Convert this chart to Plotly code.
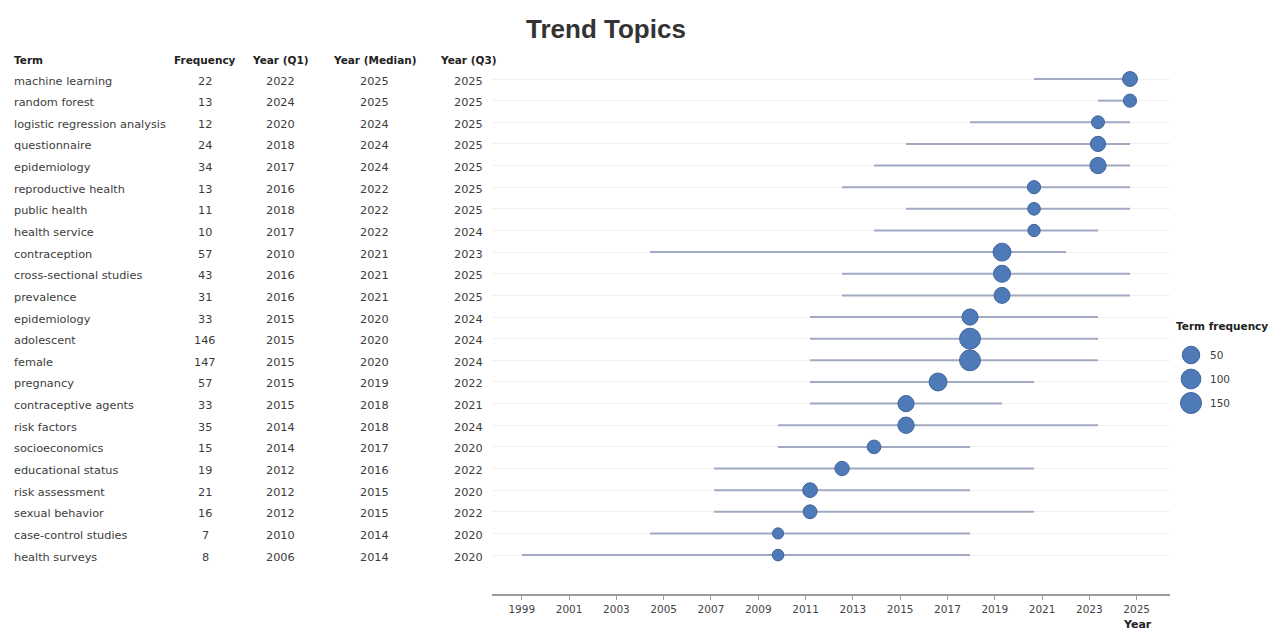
import numpy as np
import plotly.graph_objects as go

# ---- data -------------------------------------------------------------
terms = [
    "machine learning", "random forest", "logistic regression analysis",
    "questionnaire", "epidemiology", "reproductive health", "public health",
    "health service", "contraception", "cross-sectional studies", "prevalence",
    "epidemiology", "adolescent", "female", "pregnancy", "contraceptive agents",
    "risk factors", "socioeconomics", "educational status", "risk assessment",
    "sexual behavior", "case-control studies", "health surveys",
]
frequency = [22, 13, 12, 24, 34, 13, 11, 10, 57, 43, 31, 33, 146, 147, 57,
             33, 35, 15, 19, 21, 16, 7, 8]
year_q1 = [2022, 2024, 2020, 2018, 2017, 2016, 2018, 2017, 2010, 2016, 2016,
           2015, 2015, 2015, 2015, 2015, 2014, 2014, 2012, 2012, 2012, 2010, 2006]
year_median = [2025, 2025, 2024, 2024, 2024, 2022, 2022, 2022, 2021, 2021, 2021,
               2020, 2020, 2020, 2019, 2018, 2018, 2017, 2016, 2015, 2015, 2014, 2014]
year_q3 = [2025, 2025, 2025, 2025, 2025, 2025, 2025, 2024, 2023, 2025, 2025,
           2024, 2024, 2024, 2022, 2021, 2024, 2020, 2022, 2020, 2022, 2020, 2020]

axis_years = list(range(1999, 2026, 2))
legend_freqs = [50, 100, 150]

headers = ["Term", "Frequency", "Year (Q1)", "Year (Median)", "Year (Q3)"]

# ---- styling ----------------------------------------------------------
W, H = 1270, 633
FONT = "DejaVu Sans"
DOT = "#4f7ab8"
DOT_EDGE = "#40659c"
RANGE = "#a2aac2"
TEXT = "#3c3c3c"


def dot_size(f):
    """Marker diameter (px) for a term frequency (log scale)."""
    return 5.0 + 3.2 * np.log(np.asarray(f, dtype=float))


rows = np.arange(len(terms))

# interquartile range segments, one per term
seg_x, seg_y = [], []
for r, a, b in zip(rows, year_q1, year_q3):
    seg_x += [a, b, None]
    seg_y += [r, r, None]

fig = go.Figure()

# binds the labelled year axis to the row axis (draws nothing)
fig.add_trace(go.Scatter(
    x=axis_years, y=[None] * len(axis_years), mode="markers",
    xaxis="x", yaxis="y", hoverinfo="skip", showlegend=False,
))

fig.add_trace(go.Scatter(
    x=seg_x, y=seg_y, mode="lines", xaxis="x2", yaxis="y",
    line=dict(color=RANGE, width=2), hoverinfo="skip",
))
fig.add_trace(go.Scatter(
    x=year_median, y=rows, mode="markers", xaxis="x2", yaxis="y",
    marker=dict(size=dot_size(frequency), color=DOT, opacity=1,
                line=dict(color=DOT_EDGE, width=1)),
    customdata=np.stack([terms, frequency], axis=1),
    hovertemplate="%{customdata[0]}<br>Median: %{x}<br>Freq: %{customdata[1]}<extra></extra>",
))

# size legend drawn with the same size scale
fig.add_trace(go.Scatter(
    x=np.zeros(len(legend_freqs)), y=legend_freqs, mode="markers",
    xaxis="x3", yaxis="y3",
    marker=dict(size=dot_size(legend_freqs), color=DOT, opacity=1,
                line=dict(color=DOT_EDGE, width=1)),
    hoverinfo="skip",
))

plot_dom = [492 / W, 1170 / W]
top, bottom = 62, 594
ph = bottom - top


def py(px):
    """pixel row -> paper y"""
    return (bottom - px) / ph


annotations = []

# title
annotations.append(dict(
    text="<b>Trend Topics</b>", x=606 / W, y=py(29), xref="paper", yref="paper",
    showarrow=False, font=dict(family="Liberation Sans", size=26, color="#333333"),
    xanchor="center", yanchor="middle",
))

# table
col_x = [12, 205, 280, 375, 468]
col_anchor = ["left", "center", "center", "center", "center"]
columns = [terms, frequency, year_q1, year_median, year_q3]
for hx, ha, h in zip(col_x, col_anchor, headers):
    annotations.append(dict(
        text=f"<b>{h}</b>", x=hx / W, y=py(60), xref="paper", yref="paper",
        showarrow=False, xanchor=ha, yanchor="middle",
        font=dict(family=FONT, size=10.5, color="#222222"),
    ))
for cx, ca, col in zip(col_x, col_anchor, columns):
    for r, v in zip(rows, col):
        annotations.append(dict(
            text=str(v), x=cx / W, y=r, xref="paper", yref="y",
            showarrow=False, xanchor=ca, yanchor="middle", yshift=-2,
            font=dict(family=FONT, size=11.3, color=TEXT),
        ))

# axis title
annotations.append(dict(
    text="<b>Year</b>", x=1137 / W, y=py(624), xref="paper", yref="paper",
    showarrow=False, xanchor="center", yanchor="middle",
    font=dict(family=FONT, size=11, color="#222222"),
))

# legend title and labels
annotations.append(dict(
    text="<b>Term frequency</b>", x=1174 / W, y=py(326), xref="paper", yref="paper",
    showarrow=False, xanchor="left", yanchor="middle",
    font=dict(family=FONT, size=10.5, color="#222222"),
))
for v in legend_freqs:
    annotations.append(dict(
        text=str(v), x=1208 / W, y=v, xref="paper", yref="y3",
        showarrow=False, xanchor="left", yanchor="middle",
        font=dict(family=FONT, size=10.5, color=TEXT),
    ))

row_pitch = 21.64
first_row_px = 79

fig.update_layout(
    width=W, height=H,
    margin=dict(l=0, r=0, t=top, b=H - bottom, pad=0),
    paper_bgcolor="white", plot_bgcolor="white",
    showlegend=False,
    font=dict(family=FONT, color=TEXT),
    annotations=annotations,
    # labelled year axis
    xaxis=dict(domain=plot_dom, anchor="y", side="bottom",
               range=[1997.74, 2026.41], tickvals=axis_years,
               ticktext=[str(y) for y in axis_years],
               showgrid=False, zeroline=False,
               showline=True, linecolor="#9c9c9c", linewidth=1.8,
               ticks="outside", ticklen=4, tickcolor="#9c9c9c",
               tickfont=dict(family=FONT, size=10.5, color="#444444")),
    # data scale for the term ranges and medians
    xaxis2=dict(overlaying="x", anchor="y", range=[2005.06, 2026.25],
                visible=False),
    yaxis=dict(domain=[0, 1],
               range=[(bottom - first_row_px) / row_pitch,
                      -(first_row_px - top) / row_pitch],
               tickvals=list(rows), showticklabels=False, ticks="",
               showgrid=True, gridcolor="#f0f0f0", gridwidth=1,
               zeroline=False, showline=False, anchor="x"),
    xaxis3=dict(domain=[1178 / W, 1204 / W], range=[-1, 1], visible=False,
                anchor="y3"),
    yaxis3=dict(domain=[py(415), py(340)], range=[175, 18.75], visible=False,
                anchor="x3"),
)

fig.write_html("out.html")
